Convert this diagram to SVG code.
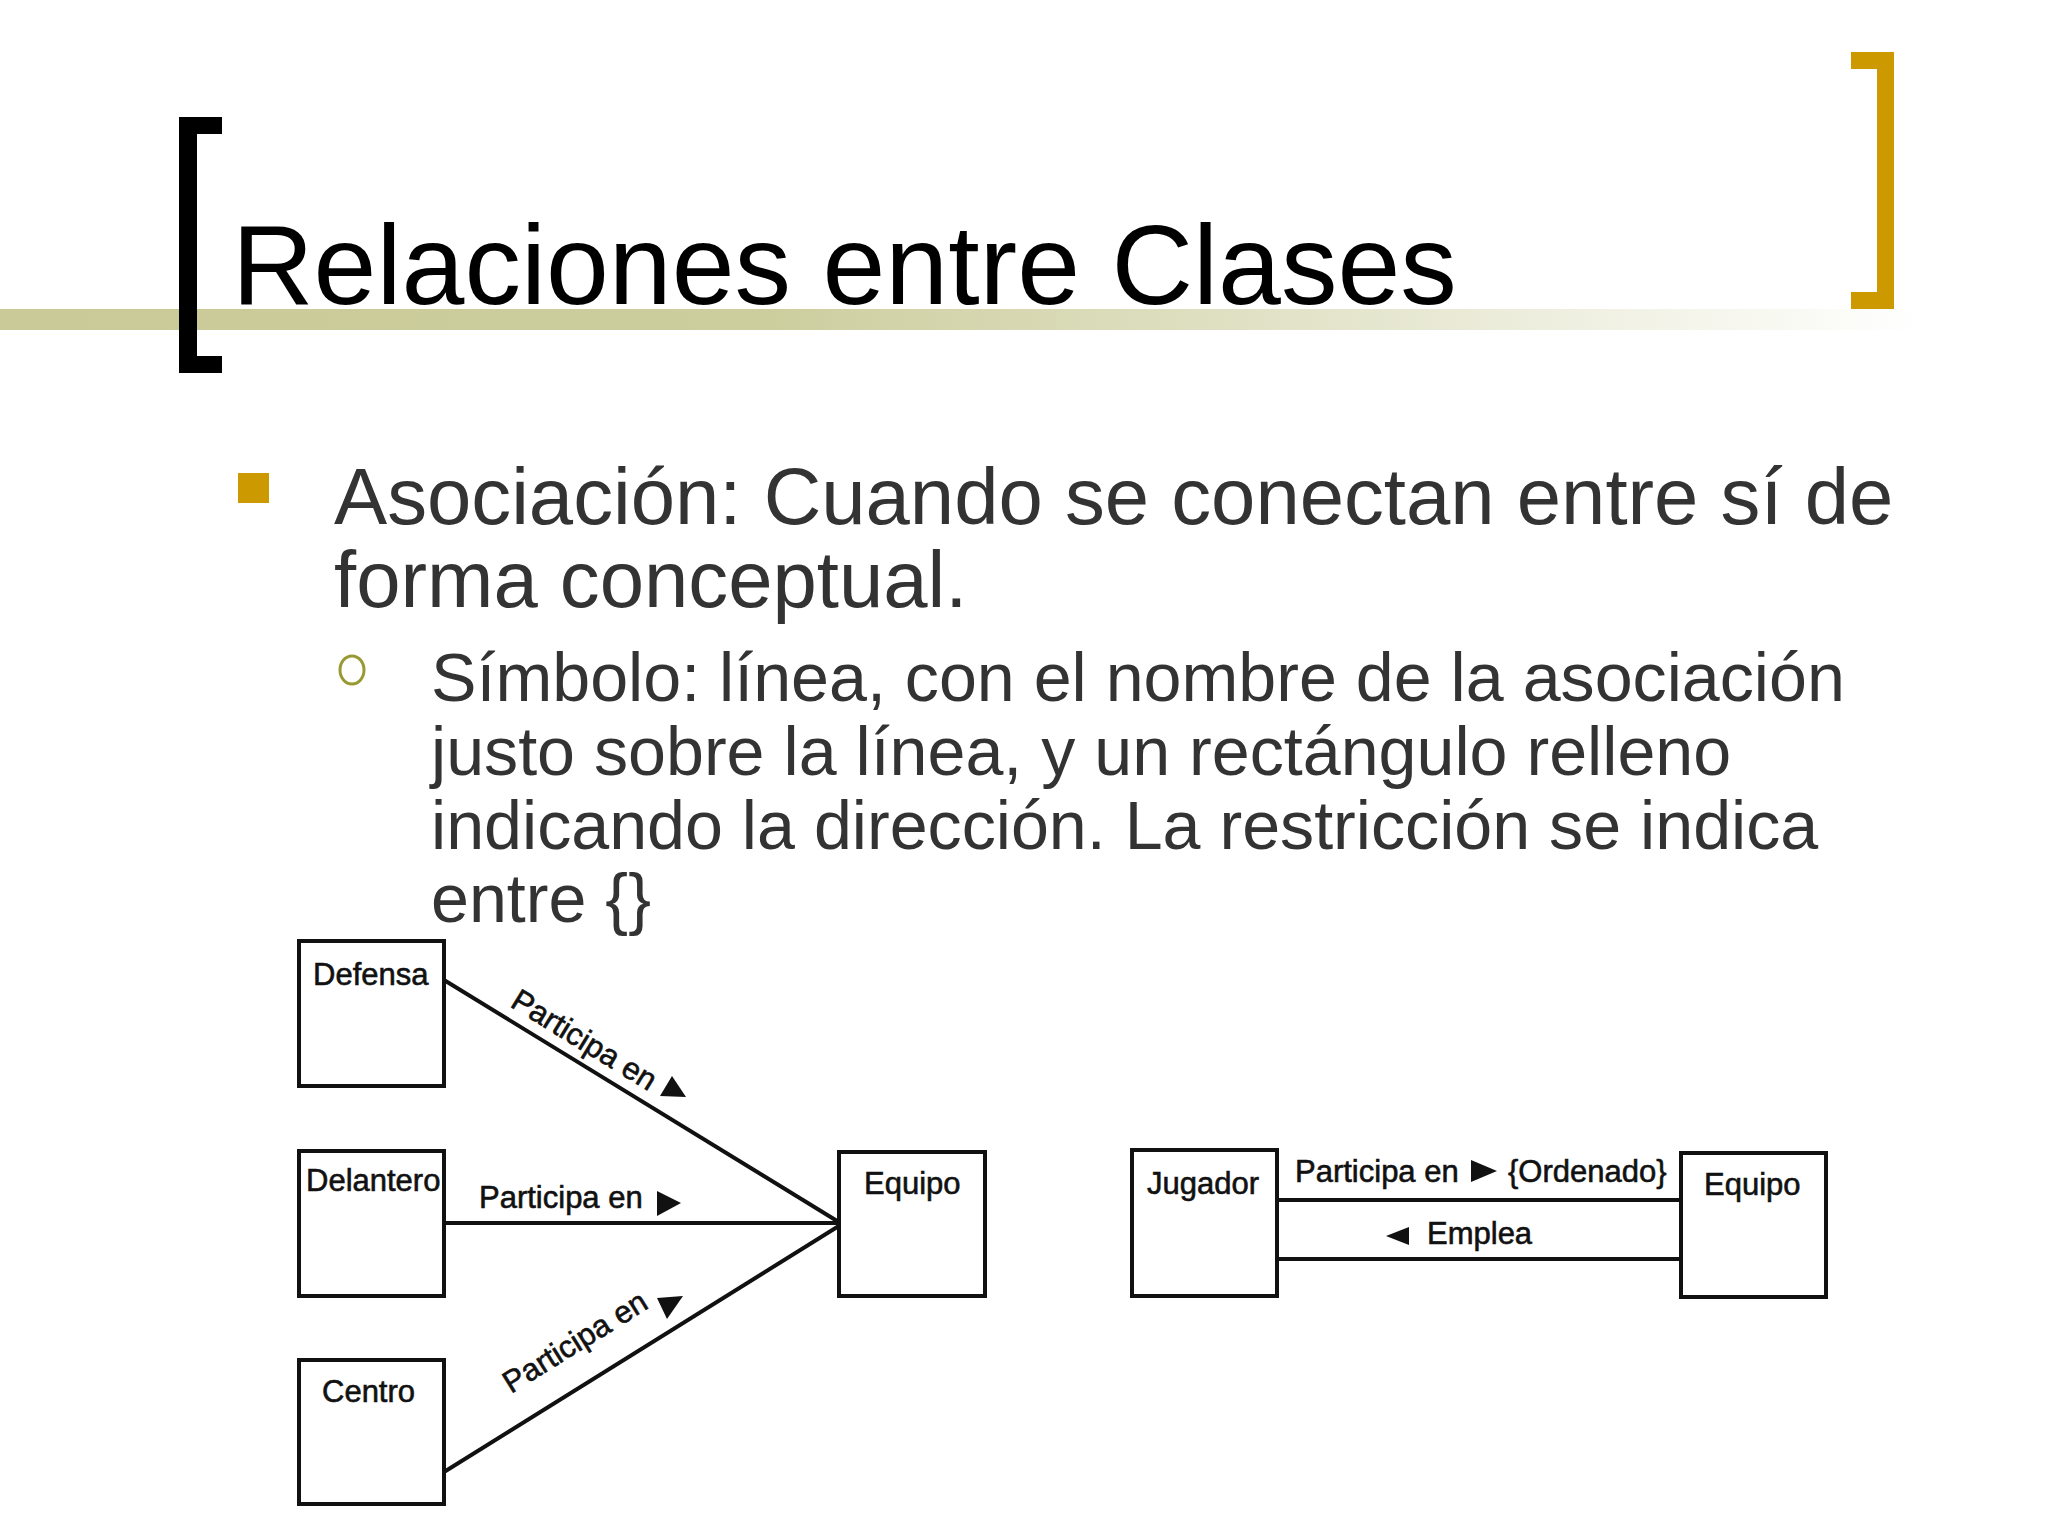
<svg xmlns="http://www.w3.org/2000/svg" width="2048" height="1536" viewBox="0 0 2048 1536">
<defs>
<linearGradient id="band" x1="0" y1="0" x2="1920" y2="0" gradientUnits="userSpaceOnUse">
<stop offset="0" stop-color="#C9CA97"/>
<stop offset="0.4" stop-color="#CDCE9E"/>
<stop offset="0.7" stop-color="#E4E5CC"/>
<stop offset="1" stop-color="#FFFFFF"/>
</linearGradient>
<style>
.title{font-family:"Liberation Sans",Arial,sans-serif;font-size:113px;fill:#000}
.b1{font-family:"Liberation Sans",Arial,sans-serif;font-size:79.7px;fill:#333}
.b2{font-family:"Liberation Sans",Arial,sans-serif;font-size:68.2px;fill:#333}
.lbl{font-family:"Liberation Sans",Arial,sans-serif;font-size:31px;fill:#111;stroke:#111;stroke-width:0.6}
.box{fill:#fff;stroke:#111;stroke-width:4}
.ln{stroke:#111;stroke-width:4;fill:none}
.tri{fill:#111}
</style>
</defs>
<rect width="2048" height="1536" fill="#fff"/>
<!-- decoration -->
<rect x="0" y="309" width="1920" height="21" fill="url(#band)"/>
<path d="M179 117 H222 V134 H197 V356 H222 V373 H179 Z" fill="#000"/>
<path d="M1851 52 H1894 V309 H1851 V292 H1877 V69 H1851 Z" fill="#CC9900"/>
<text class="title" x="232" y="304">Relaciones entre Clases</text>
<!-- bullets -->
<rect x="238" y="473" width="31" height="30" fill="#CC9900"/>
<text class="b1" x="334" y="524">Asociación: Cuando se conectan entre sí de</text>
<text class="b1" x="334" y="607">forma conceptual.</text>
<ellipse cx="352" cy="670" rx="12" ry="14" fill="none" stroke="#999933" stroke-width="3"/>
<text class="b2" x="431" y="701">Símbolo: línea, con el nombre de la asociación</text>
<text class="b2" x="431" y="775">justo sobre la línea, y un rectángulo relleno</text>
<text class="b2" x="431" y="849">indicando la dirección. La restricción se indica</text>
<text class="b2" x="431" y="922">entre {}</text>
<!-- connectors -->
<g id="connectors">
<line class="ln" x1="444" y1="980" x2="842" y2="1224"/>
<line class="ln" x1="444" y1="1223" x2="842" y2="1223"/>
<line class="ln" x1="444" y1="1472" x2="842" y2="1224"/>
<line class="ln" x1="1277" y1="1200" x2="1681" y2="1200"/>
<line class="ln" x1="1277" y1="1259" x2="1681" y2="1259"/>
<text class="lbl" transform="translate(509 1006) rotate(31.5)">Participa en</text>
<polygon class="tri" points="672,1076 660,1096 686,1097"/>
<text class="lbl" x="479" y="1208">Participa en</text>
<polygon class="tri" points="657,1191 657,1216 681,1203"/>
<text class="lbl" transform="translate(511 1394) rotate(-31.9)">Participa en</text>
<polygon class="tri" points="657,1298 683,1296 667,1319"/>
<text class="lbl" x="1295" y="1182">Participa en</text>
<polygon class="tri" points="1471,1160 1471,1182 1497,1171"/>
<text class="lbl" x="1508" y="1182">{Ordenado}</text>
<polygon class="tri" points="1409,1227 1409,1245 1386,1236"/>
<text class="lbl" x="1427" y="1244">Emplea</text>
</g>
<!-- nodes -->
<g id="defensa"><rect class="box" x="299" y="941" width="145" height="145"/><text class="lbl" x="313" y="985">Defensa</text></g>
<g id="delantero"><rect class="box" x="299" y="1151" width="145" height="145"/><text class="lbl" x="306" y="1191">Delantero</text></g>
<g id="centro"><rect class="box" x="299" y="1360" width="145" height="144"/><text class="lbl" x="322" y="1402">Centro</text></g>
<g id="equipo1"><rect class="box" x="839" y="1152" width="146" height="144"/><text class="lbl" x="864" y="1194">Equipo</text></g>
<g id="jugador"><rect class="box" x="1132" y="1150" width="145" height="146"/><text class="lbl" x="1147" y="1194">Jugador</text></g>
<g id="equipo2"><rect class="box" x="1681" y="1153" width="145" height="144"/><text class="lbl" x="1704" y="1195">Equipo</text></g>
</svg>
